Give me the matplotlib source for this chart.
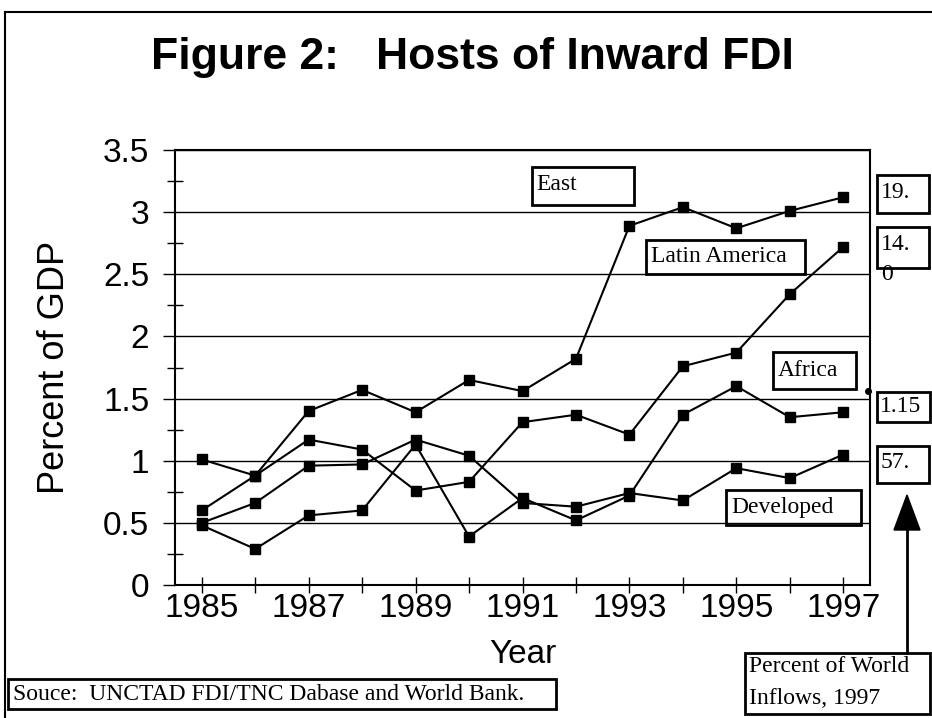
import matplotlib
matplotlib.use("Agg")
import matplotlib.pyplot as plt
from matplotlib.patches import Rectangle, Polygon
from matplotlib.lines import Line2D
from matplotlib.ticker import MultipleLocator
import numpy as np

# data (percent of GDP)
years = [1985, 1986, 1987, 1988, 1989, 1990, 1991, 1992, 1993, 1994, 1995, 1996, 1997]
east = [0.60, 0.88, 1.40, 1.57, 1.39, 1.65, 1.56, 1.82, 2.89, 3.04, 2.87, 3.01, 3.12]
latin_america = [1.01, 0.88, 1.17, 1.09, 0.76, 0.83, 1.31, 1.37, 1.21, 1.76, 1.87, 2.34, 2.72]
africa = [0.48, 0.29, 0.56, 0.60, 1.13, 0.39, 0.70, 0.52, 0.72, 1.37, 1.60, 1.35, 1.39]
developed = [0.50, 0.66, 0.96, 0.97, 1.17, 1.04, 0.66, 0.63, 0.74, 0.68, 0.94, 0.86, 1.05]
series = [east, latin_america, africa, developed]

# labels of the series and share of world inflows in 1997
region_names = ["East", "Latin America", "Africa", "Developed"]
world_share = ["19.", "14.", "1.15", "57."]

W, H = 932, 718
SANS = "Liberation Sans"
SERIF = "Liberation Serif"


def fx(x):
    return x / W


def fy(y):
    return 1 - y / H


def fig_box(fig, x0, y0, x1, y1, lw=2.0):
    # rectangle given in pixel coords (top-left origin)
    fig.add_artist(Rectangle((fx(x0), fy(y1)), fx(x1) - fx(x0), fy(y0) - fy(y1),
                             transform=fig.transFigure, fill=False,
                             edgecolor="black", lw=lw))


def fig_text(fig, x, y, s, size=17, **kw):
    fig.text(fx(x), fy(y), s, fontsize=size, family=SERIF,
             va="center", ha="left", **kw)


fig = plt.figure(figsize=(W / 100, H / 100), dpi=100)
fig.patch.set_facecolor("white")

# plot area
ax = fig.add_axes([fx(175), fy(585), fx(870) - fx(175), fy(150) - fy(585)])
for vals in series:
    ax.plot(years, vals, color="black", lw=1.5, marker="s", markersize=7.5,
            markerfacecolor="black", markeredgecolor="black")

ax.set_xlim(1984.5, 1997.5)
ax.set_ylim(0, 3.5)
ax.yaxis.set_minor_locator(MultipleLocator(0.25))
ax.set_yticks(np.arange(0, 3.51, 0.5))
ax.set_yticklabels(["0", "0.5", "1", "1.5", "2", "2.5", "3", "3.5"])
ax.set_xticks(years)
ax.set_xticklabels([str(y) if y % 2 == 1 else "" for y in years])
ax.grid(axis="y", which="major", color="black", lw=1.0)
ax.set_axisbelow(True)

for sp in ax.spines.values():
    sp.set_linewidth(1.5)
ax.tick_params(axis="y", which="major", direction="out", length=8.5, width=1,
               labelsize=24, pad=10)
ax.tick_params(axis="y", which="minor", direction="inout", length=11, width=1)
ax.tick_params(axis="x", which="major", direction="inout", length=11, width=1,
               labelsize=24, pad=0)
for lab in ax.get_xticklabels() + ax.get_yticklabels():
    lab.set_family(SANS)

ax.set_xlabel("Year", fontsize=24, family=SANS, labelpad=11)
ax.set_ylabel("Percent of GDP", fontsize=26, family=SANS, labelpad=22)

# title
fig.text(fx(472), fy(57), "Figure 2:   Hosts of Inward FDI", fontsize=32,
         fontweight="bold", family=SANS, ha="center", va="center")

# outer frame (top and left edges)
fig.add_artist(Line2D([fx(5), fx(5)], [fy(12), 0], transform=fig.transFigure,
                      color="black", lw=1.5))
fig.add_artist(Line2D([fx(5), 1], [fy(12), fy(12)], transform=fig.transFigure,
                      color="black", lw=1.5))

# region labels inside the plot
fig_box(fig, 532, 167, 634, 205)
fig_text(fig, 536, 184, region_names[0])
fig_box(fig, 646, 240, 805, 274)
fig_text(fig, 651, 257, region_names[1])
fig_box(fig, 773, 352, 856, 389)
fig_text(fig, 778, 370, region_names[2])
fig_box(fig, 726, 490, 861, 525)
fig_text(fig, 731, 507, region_names[3])

# share of world inflows, 1997
fig_box(fig, 877, 175, 929, 213)
fig_text(fig, 881, 192, world_share[0])
fig_box(fig, 877, 227, 929, 268)
fig_text(fig, 881, 244, world_share[1])
fig_text(fig, 881, 275, "0")
fig_box(fig, 877, 392, 930, 422)
fig_text(fig, 880, 407, world_share[2])
fig_box(fig, 877, 446, 929, 483)
fig_text(fig, 881, 462, world_share[3])
fig.add_artist(Line2D([fx(868)], [fy(391)], transform=fig.transFigure,
                      marker="o", markersize=4, color="black"))

# arrow up to the share boxes
fig.add_artist(Line2D([fx(907), fx(907)], [fy(653), fy(528)],
                      transform=fig.transFigure, color="black", lw=2))
fig.add_artist(Polygon([(fx(894), fy(530)), (fx(920), fy(530)), (fx(907), fy(495))],
                       closed=True, transform=fig.transFigure, color="black"))
fig_box(fig, 745, 653, 930, 714)
fig_text(fig, 749, 667, "Percent of World")
fig_text(fig, 749, 698, "Inflows, 1997")

# source note
fig_box(fig, 8, 679, 556, 709)
fig_text(fig, 13, 694, "Souce:  UNCTAD FDI/TNC Dabase and World Bank.")

fig.savefig("out.png", dpi=100)
